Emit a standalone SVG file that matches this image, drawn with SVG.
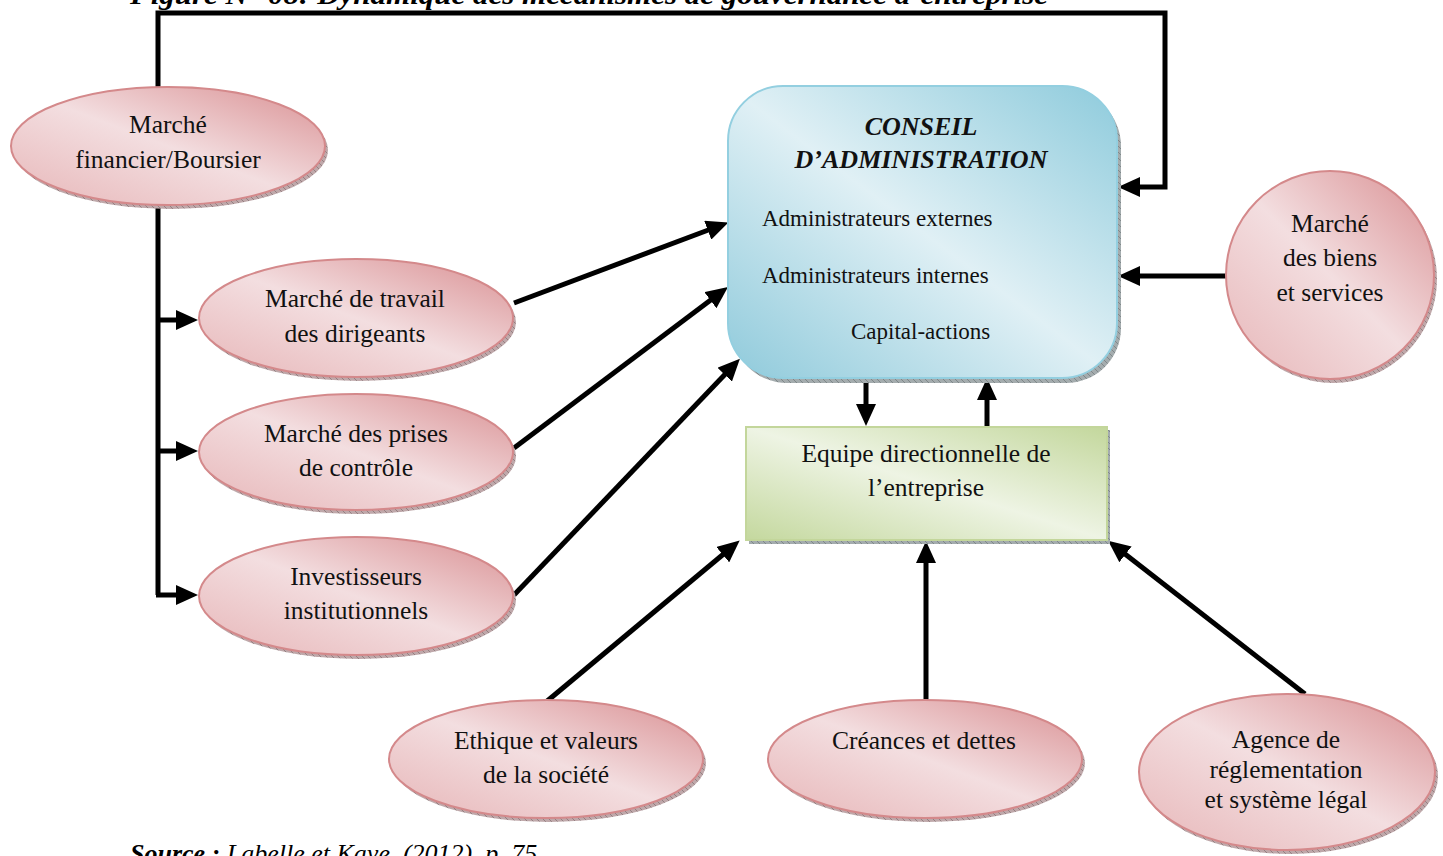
<svg xmlns="http://www.w3.org/2000/svg" width="1443" height="856" viewBox="0 0 1443 856">
  <style>
    .lbl { font-family: "Liberation Serif", "Times New Roman", serif; font-size: 25.5px; fill: #111; text-anchor: middle; }
    .small { font-family: "Liberation Serif", "Times New Roman", serif; font-size: 23px; fill: #111; }
    .head { font-family: "Liberation Serif", "Times New Roman", serif; font-size: 26px; font-weight: bold; font-style: italic; fill: #111; text-anchor: middle; }
    .oval { fill: url(#pink); stroke: #d4898b; stroke-width: 2; }
    .shadow { fill: url(#hatch); }
    .wire { fill: none; stroke: #000; stroke-width: 5; }
    .arrow { fill: none; stroke: #000; stroke-width: 5; marker-end: url(#head); }
  </style>
  <defs>
    <linearGradient id="pink" x1="1" y1="0" x2="0" y2="1">
      <stop offset="0" stop-color="#d98f92"/>
      <stop offset="0.5" stop-color="#f3dee0"/>
      <stop offset="1" stop-color="#e7b6b8"/>
    </linearGradient>
    <linearGradient id="blue" x1="1" y1="0" x2="0" y2="1">
      <stop offset="0" stop-color="#8ecbdc"/>
      <stop offset="0.5" stop-color="#e0f0f5"/>
      <stop offset="1" stop-color="#8fcadb"/>
    </linearGradient>
    <linearGradient id="green" x1="1" y1="0" x2="0" y2="1">
      <stop offset="0" stop-color="#c3d79c"/>
      <stop offset="0.5" stop-color="#eef4e4"/>
      <stop offset="1" stop-color="#c4d89e"/>
    </linearGradient>
    <pattern id="hatch" width="6" height="6" patternUnits="userSpaceOnUse">
      <rect width="6" height="6" fill="#bfa8aa"/>
      <path d="M0 0 L6 6" stroke="#947f81" stroke-width="1"/>
    </pattern>
    <pattern id="hatchGrey" width="6" height="6" patternUnits="userSpaceOnUse">
      <rect width="6" height="6" fill="#a4acae"/>
      <path d="M0 0 L6 6" stroke="#7f8789" stroke-width="1"/>
    </pattern>
    <marker id="head" viewBox="0 0 22 20" markerUnits="userSpaceOnUse" markerWidth="22" markerHeight="20" refX="12" refY="10" orient="auto">
      <path d="M0 0 L22 10 L0 20 z" fill="#000"/>
    </marker>
  </defs>

  <rect width="1443" height="856" fill="#fff"/>

  <!-- figure title, running off the top edge of the page -->
  <text x="130" y="4" font-family="Liberation Serif, Times New Roman, serif" font-size="28" font-weight="bold" font-style="italic" fill="#000" textLength="918" lengthAdjust="spacingAndGlyphs">Figure N° 08: Dynamique des mécanismes de gouvernance d’entreprise</text>

  <!-- connectors -->
  <g id="connectors">
    <path class="arrow" d="M158 88 L158 13 L1165 13 L1165 187 L1128 187"/>
    <path class="wire" d="M158 204 L158 595"/>
    <path class="arrow" d="M156 320 L188 320"/>
    <path class="arrow" d="M156 451 L188 451"/>
    <path class="arrow" d="M156 595 L188 595"/>
    <path class="arrow" d="M514 303 L719 226"/>
    <path class="arrow" d="M514 448 L720 293"/>
    <path class="arrow" d="M514 595 L733 366"/>
    <path class="arrow" d="M1226 276 L1128 276"/>
    <path class="arrow" d="M866 376 L866 416"/>
    <path class="arrow" d="M987 428 L987 388"/>
    <path class="arrow" d="M546 702 L732 547"/>
    <path class="arrow" d="M926 702 L926 551"/>
    <path class="arrow" d="M1305 694 L1116 547"/>
  </g>

  <!-- board of directors -->
  <g id="conseil">
    <rect x="732" y="91" width="389" height="292" rx="55" fill="url(#hatchGrey)"/>
    <rect x="728" y="86" width="389" height="292" rx="55" fill="url(#blue)" stroke="#93cfe0" stroke-width="2"/>
    <text class="head" x="921" y="135">CONSEIL</text>
    <text class="head" x="921" y="168">D’ADMINISTRATION</text>
    <text class="small" x="762" y="226">Administrateurs externes</text>
    <text class="small" x="762" y="283">Administrateurs internes</text>
    <text class="small" x="851" y="339">Capital-actions</text>
  </g>

  <!-- management team -->
  <g id="equipe">
    <rect x="749" y="430" width="361" height="114" fill="url(#hatchGrey)"/>
    <rect x="746" y="427" width="361" height="113" fill="url(#green)" stroke="#c3d69b" stroke-width="2"/>
    <text class="lbl" x="926" y="462">Equipe directionnelle de</text>
    <text class="lbl" x="926" y="496">l’entreprise</text>
  </g>

  <g id="marche-financier">
    <ellipse class="shadow" cx="171" cy="150" rx="157" ry="59"/>
    <ellipse class="oval" cx="168" cy="146" rx="157" ry="59"/>
    <text class="lbl" x="168" y="133">Marché</text>
    <text class="lbl" x="168" y="168">financier/Boursier</text>
  </g>

  <g id="marche-travail">
    <ellipse class="shadow" cx="359" cy="322" rx="157" ry="59"/>
    <ellipse class="oval" cx="356" cy="318" rx="157" ry="59"/>
    <text class="lbl" x="355" y="307">Marché de travail</text>
    <text class="lbl" x="355" y="342">des dirigeants</text>
  </g>

  <g id="prises-controle">
    <ellipse class="shadow" cx="359" cy="456" rx="157" ry="58"/>
    <ellipse class="oval" cx="356" cy="452" rx="157" ry="58"/>
    <text class="lbl" x="356" y="442">Marché des prises</text>
    <text class="lbl" x="356" y="476">de contrôle</text>
  </g>

  <g id="investisseurs">
    <ellipse class="shadow" cx="359" cy="600" rx="157" ry="59"/>
    <ellipse class="oval" cx="356" cy="596" rx="157" ry="59"/>
    <text class="lbl" x="356" y="585">Investisseurs</text>
    <text class="lbl" x="356" y="619">institutionnels</text>
  </g>

  <g id="ethique">
    <ellipse class="shadow" cx="549" cy="763" rx="157" ry="59"/>
    <ellipse class="oval" cx="546" cy="759" rx="157" ry="59"/>
    <text class="lbl" x="546" y="749">Ethique et valeurs</text>
    <text class="lbl" x="546" y="783">de la société</text>
  </g>

  <g id="creances">
    <ellipse class="shadow" cx="928" cy="763" rx="157" ry="59"/>
    <ellipse class="oval" cx="925" cy="759" rx="157" ry="59"/>
    <text class="lbl" x="924" y="749">Créances et dettes</text>
  </g>

  <g id="agence">
    <ellipse class="shadow" cx="1290" cy="776" rx="148" ry="78"/>
    <ellipse class="oval" cx="1287" cy="772" rx="148" ry="78"/>
    <text class="lbl" x="1286" y="748">Agence de</text>
    <text class="lbl" x="1286" y="778">réglementation</text>
    <text class="lbl" x="1286" y="808">et système légal</text>
  </g>

  <g id="marche-biens">
    <ellipse class="shadow" cx="1333" cy="279" rx="104" ry="104"/>
    <ellipse class="oval" cx="1330" cy="275" rx="104" ry="104"/>
    <text class="lbl" x="1330" y="232">Marché</text>
    <text class="lbl" x="1330" y="266">des biens</text>
    <text class="lbl" x="1330" y="301">et services</text>
  </g>

  <!-- source line, running off the bottom edge of the page -->
  <text x="130" y="862" font-family="Liberation Serif, Times New Roman, serif" font-size="26" font-style="italic" fill="#000"><tspan font-weight="bold">Source :</tspan> Labelle et Kaye, (2012), p. 75</text>
</svg>
